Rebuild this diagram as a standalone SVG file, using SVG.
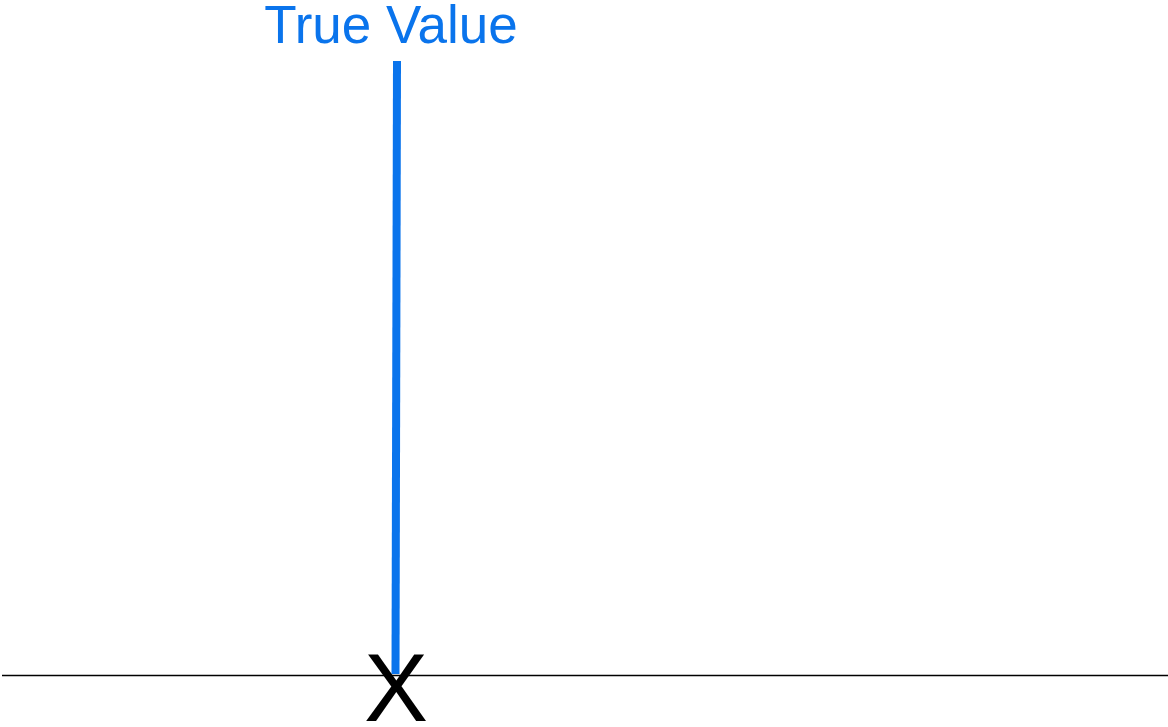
<svg xmlns="http://www.w3.org/2000/svg" width="1168" height="727" viewBox="0 0 1168 727">
<style>
.blue{fill:#0a74ec;font-family:"Liberation Sans",Arial,sans-serif}
.blk{fill:#000;font-family:"Liberation Sans",Arial,sans-serif}
</style>
<rect width="1168" height="727" fill="#fff"/>
<g id="axis">
<line x1="2" y1="675.5" x2="1168" y2="675.5" stroke="#000" stroke-width="1.5"/>
</g>
<g id="connectors">
<line x1="397" y1="61" x2="395.5" y2="674" stroke="#0a74ec" stroke-width="8"/>
</g>
<g id="true-value">
<text class="blue" x="391" y="43" font-size="53" text-anchor="middle">True Value</text>
</g>
<g id="x-mark">
<text class="blk" x="396" y="721" font-size="96" text-anchor="middle">X</text>
</g>
</svg>
